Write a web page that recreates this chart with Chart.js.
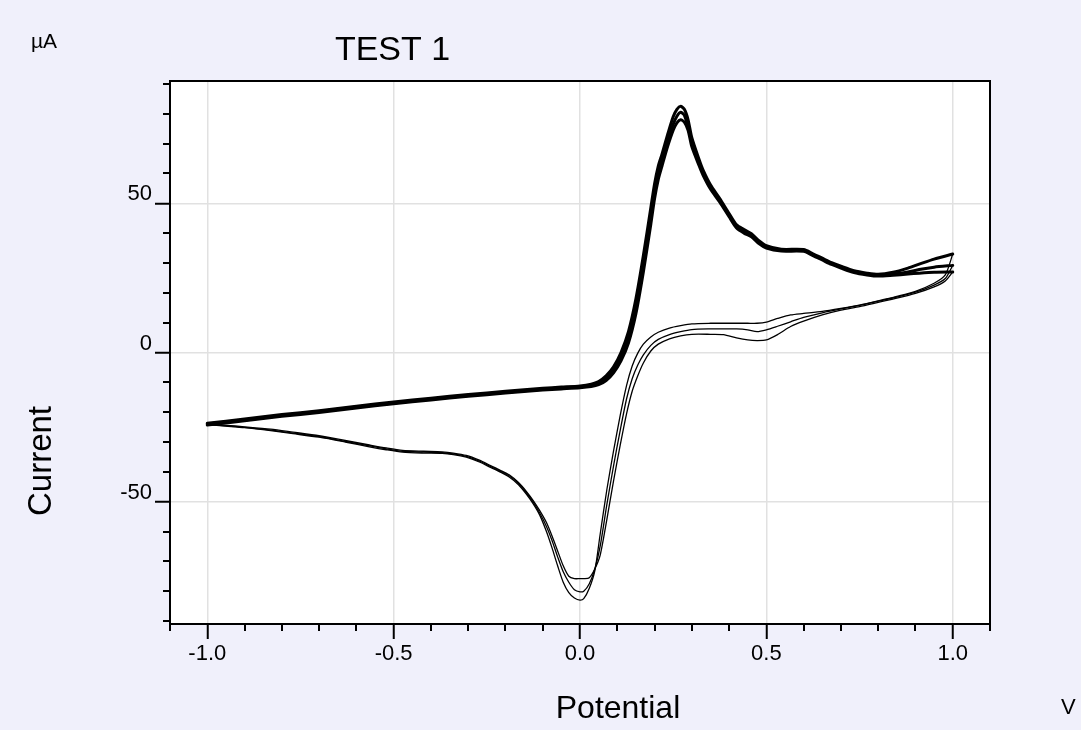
<!DOCTYPE html>
<html>
<head>
<meta charset="utf-8">
<script src="https://cdn.jsdelivr.net/npm/chart.js@4.4.1/dist/chart.umd.min.js"></script>
<style>
  html, body { margin: 0; padding: 0; background: #f0f0fb; }
  #wrap { width: 1081px; height: 730px; }
</style>
</head>
<body>
<div id="wrap"><canvas id="cv" width="1081" height="730"></canvas></div>
<script>
// Potential (V) of the anodic sweeps, -1.0 V -> +1.0 V
const potentialForward = [-1.0,-0.9,-0.8,-0.7,-0.6,-0.5,-0.4,-0.3,-0.2,-0.1,-0.05,0.0,0.03,0.05,0.07,0.09,0.11,0.13,0.15,0.17,0.19,0.2,0.21,0.22,0.235,0.25,0.26,0.27,0.28,0.29,0.3,0.32,0.33,0.35,0.375,0.4,0.42,0.44,0.46,0.48,0.5,0.54,0.6,0.625,0.65,0.675,0.7,0.735,0.77,0.8,0.84,0.88,0.91,0.95,1.0];

// Current (µA) of the anodic sweeps, one list per cycle
const currentForward1 = [-23.7,-22.3,-20.8,-19.5,-18.0,-16.6,-15.3,-14.1,-13.0,-12.0,-11.6,-11.2,-10.6,-9.7,-7.8,-4.8,0.0,7.0,18.0,32.5,48.5,56.5,62.5,66.5,73.0,79.0,81.5,82.5,81.5,78.0,72.0,64.5,61.2,56.2,51.6,46.6,42.8,41.2,39.8,37.5,35.8,34.6,34.5,33.1,31.6,30.1,28.9,27.4,26.6,26.2,26.9,28.3,29.6,31.3,33.0];
const currentForward2 = [-24.0,-22.6,-21.1,-19.8,-18.3,-16.9,-15.6,-14.4,-13.3,-12.3,-11.9,-11.5,-11.0,-10.3,-8.6,-5.8,-1.5,5.0,15.5,30.0,46.0,54.0,60.5,64.5,71.0,76.5,79.2,80.5,79.5,75.5,70.5,63.5,60.2,55.5,51.0,46.0,42.2,40.6,39.3,37.0,35.4,34.3,34.2,32.8,31.3,29.8,28.6,27.1,26.3,25.9,26.3,27.0,27.8,28.6,29.2];
const currentForward3 = [-24.3,-22.9,-21.4,-20.1,-18.6,-17.2,-15.9,-14.7,-13.6,-12.6,-12.2,-11.8,-11.4,-10.8,-9.4,-6.8,-2.8,3.2,13.0,27.0,43.0,51.5,58.0,62.5,69.0,74.5,77.0,78.0,77.2,74.5,69.0,62.5,59.5,54.8,50.4,45.5,41.7,40.0,38.8,36.5,35.0,34.0,33.9,32.5,31.0,29.5,28.3,26.8,26.0,25.6,25.9,26.3,26.6,26.9,27.0];

// Potential (V) of the cathodic sweeps, +1.0 V -> -1.0 V
const potentialReverse = [1.0,0.98,0.95,0.9,0.85,0.8,0.75,0.7,0.65,0.6,0.565,0.53,0.5,0.475,0.45,0.42,0.385,0.35,0.3,0.27,0.24,0.21,0.19,0.17,0.155,0.14,0.125,0.108,0.09,0.072,0.054,0.04,0.025,0.01,0.0,-0.015,-0.03,-0.045,-0.06,-0.075,-0.09,-0.108,-0.125,-0.143,-0.165,-0.19,-0.215,-0.24,-0.27,-0.305,-0.34,-0.37,-0.42,-0.476,-0.52,-0.565,-0.63,-0.7,-0.77,-0.83,-0.9,-0.95,-1.0];

// Current (µA) of the cathodic sweeps, one list per cycle
const currentReverse1 = [33.0,26.0,23.2,20.5,18.8,17.3,15.9,14.8,13.8,13.1,12.6,11.4,10.2,9.8,9.8,9.8,9.8,9.8,9.6,9.0,8.2,6.8,5.2,2.8,-0.2,-4.5,-11.0,-21.0,-33.0,-46.0,-61.0,-73.0,-79.0,-82.5,-83.0,-82.3,-80.5,-77.0,-71.5,-65.5,-60.0,-54.5,-50.8,-47.6,-44.3,-41.7,-40.0,-38.5,-36.7,-35.1,-34.2,-33.8,-33.7,-33.4,-32.6,-31.6,-30.0,-28.4,-27.2,-26.2,-25.2,-24.7,-24.2];
const currentReverse2 = [29.2,24.8,22.6,20.2,18.6,17.2,15.8,14.6,13.3,11.8,10.3,8.8,7.6,7.0,7.6,7.9,7.9,7.9,7.7,7.0,6.0,4.4,2.4,-0.8,-4.2,-8.8,-15.5,-26.0,-38.0,-51.0,-65.0,-72.5,-77.5,-80.0,-80.2,-79.5,-77.0,-73.5,-68.5,-63.0,-58.3,-53.8,-50.2,-47.1,-43.9,-41.3,-39.7,-38.2,-36.4,-34.8,-34.0,-33.6,-33.4,-33.1,-32.3,-31.3,-29.8,-28.2,-27.0,-26.0,-25.1,-24.6,-24.1];
const currentReverse3 = [27.0,24.0,22.0,19.8,18.2,16.8,15.4,14.2,12.6,10.5,8.7,6.0,4.2,4.0,4.2,4.9,6.0,6.1,6.1,5.6,4.6,2.8,0.5,-3.5,-7.8,-13.0,-20.5,-31.0,-43.0,-56.0,-68.0,-72.5,-75.5,-75.8,-75.8,-75.8,-75.0,-71.5,-66.5,-61.5,-57.0,-53.0,-49.7,-46.7,-43.6,-41.0,-39.4,-37.9,-36.1,-34.5,-33.7,-33.3,-33.1,-32.8,-32.0,-31.0,-29.5,-27.9,-26.7,-25.7,-24.9,-24.4,-24.0];

// Axis ticks
const xMajorTicks = [-1.0, -0.5, 0.0, 0.5, 1.0];
const xMinorTicks = [-1.1,-0.9,-0.8,-0.7,-0.6,-0.4,-0.3,-0.2,-0.1,0.1,0.2,0.3,0.4,0.6,0.7,0.8,0.9,1.1];
const yMajorTicks = [-50, 0, 50];
const yMinorTicks = [-90,-80,-70,-60,-40,-30,-20,-10,10,20,30,40,60,70,80,90];

const FONT = '"Liberation Sans", Arial, sans-serif';

function pairs(xs, ys) { return xs.map((x, i) => ({ x: x, y: ys[i] })); }

function sweep(xs, ys, width) {
  return {
    data: pairs(xs, ys),
    showLine: true,
    borderColor: '#000',
    borderWidth: width,
    pointRadius: 0,
    tension: 0.25,
    borderJoinStyle: 'round',
    borderCapStyle: 'round',
    fill: false
  };
}

// Page background, white plot area, frame, minor ticks and free texts
const decorations = {
  id: 'decorations',
  beforeDraw(chart) {
    const { ctx, chartArea: a } = chart;
    ctx.save();
    ctx.fillStyle = '#f0f0fb';
    ctx.fillRect(0, 0, chart.width, chart.height);
    ctx.fillStyle = '#ffffff';
    ctx.fillRect(a.left, a.top, a.right - a.left, a.bottom - a.top);
    ctx.restore();
  },
  afterDraw(chart) {
    const { ctx, chartArea: a } = chart;
    const xs = chart.scales.x, ys = chart.scales.y;
    ctx.save();
    ctx.strokeStyle = '#000';
    ctx.lineWidth = 2;
    ctx.beginPath();
    ctx.moveTo(a.left, a.top); ctx.lineTo(a.right, a.top); ctx.lineTo(a.right, a.bottom);
    ctx.stroke();

    ctx.beginPath();
    xMinorTicks.forEach(v => {
      const px = Math.round(xs.getPixelForValue(v));
      ctx.moveTo(px, a.bottom); ctx.lineTo(px, a.bottom + 7);
    });
    yMinorTicks.forEach(v => {
      const py = Math.round(ys.getPixelForValue(v));
      ctx.moveTo(a.left - 7, py); ctx.lineTo(a.left, py);
    });
    ctx.stroke();

    ctx.fillStyle = '#000';
    ctx.textBaseline = 'alphabetic';
    ctx.font = '34px ' + FONT;
    ctx.textAlign = 'center';
    ctx.fillText('TEST 1', 392.5, 60);

    ctx.font = '21px ' + FONT;
    ctx.textAlign = 'left';
    ctx.fillText('µA', 31, 48);

    ctx.font = '32px ' + FONT;
    ctx.textAlign = 'center';
    ctx.fillText('Potential', 618, 718);

    ctx.font = '22px ' + FONT;
    ctx.textAlign = 'left';
    ctx.fillText('V', 1061, 714);

    ctx.translate(51, 461);
    ctx.rotate(-Math.PI / 2);
    ctx.font = '33px ' + FONT;
    ctx.textAlign = 'center';
    ctx.fillText('Current', 0, 0);
    ctx.restore();
  }
};

new Chart(document.getElementById('cv'), {
  type: 'scatter',
  data: {
    datasets: [
      sweep(potentialReverse, currentReverse1, 1.3),
      sweep(potentialReverse, currentReverse2, 1.3),
      sweep(potentialReverse, currentReverse3, 1.3),
      sweep(potentialForward, currentForward1, 3),
      sweep(potentialForward, currentForward2, 3),
      sweep(potentialForward, currentForward3, 3)
    ]
  },
  options: {
    responsive: false,
    animation: false,
    devicePixelRatio: 1,
    layout: { padding: { left: 0, top: 81, right: 91, bottom: 0 } },
    plugins: { legend: { display: false }, tooltip: { enabled: false }, title: { display: false } },
    scales: {
      x: {
        type: 'linear',
        min: -1.1,
        max: 1.1,
        afterBuildTicks: s => { s.ticks = xMajorTicks.map(v => ({ value: v })); },
        afterFit: s => { s.height = 730 - 624; },
        ticks: {
          callback: v => Number(v).toFixed(1),
          color: '#000',
          font: { family: FONT, size: 22 },
          padding: 2,
          maxRotation: 0,
          autoSkip: false
        },
        grid: { color: '#e1e1e1', lineWidth: 1.5, drawTicks: true, tickLength: 15, tickColor: '#000', tickWidth: 2 },
        border: { display: true, color: '#000', width: 2 }
      },
      y: {
        type: 'linear',
        min: -91,
        max: 91,
        afterBuildTicks: s => { s.ticks = yMajorTicks.map(v => ({ value: v })); },
        afterFit: s => { s.width = 170; },
        ticks: {
          callback: v => String(v),
          color: '#000',
          font: { family: FONT, size: 22 },
          padding: 3,
          labelOffset: -9,
          autoSkip: false
        },
        grid: { color: '#e1e1e1', lineWidth: 1.5, drawTicks: true, tickLength: 15, tickColor: '#000', tickWidth: 2 },
        border: { display: true, color: '#000', width: 2 }
      }
    }
  },
  plugins: [decorations]
});
</script>
</body>
</html>
